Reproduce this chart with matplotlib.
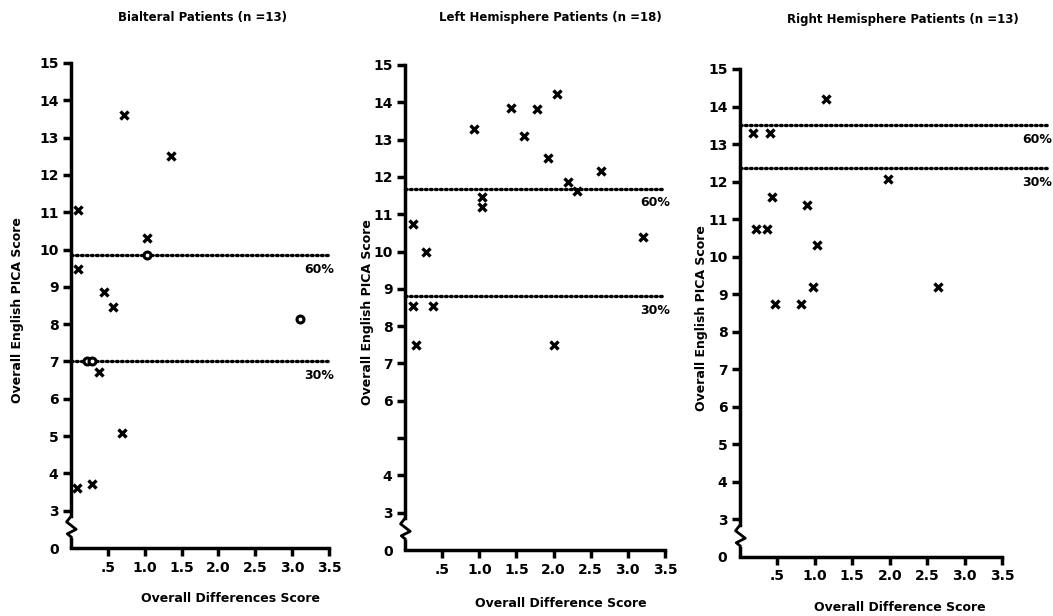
import matplotlib
matplotlib.use("Agg")
import matplotlib.pyplot as plt
import numpy as np

# ========== Datos ==========

titles = ["Bialteral Patients (n =13)", "Left Hemisphere Patients (n =18)",
          "Right Hemisphere Patients (n =13)"]
xlabels = ["Overall Differences Score", "Overall Difference Score", "Overall Difference Score"]
ylabel = "Overall English PICA Score"

bil_x = [0.1, 0.1, 0.72, 1.35, 1.03, 0.45, 0.57, 0.38, 0.69, 0.08, 0.28]
bil_y = [11.05, 9.47, 13.6, 12.5, 10.3, 8.85, 8.45, 6.73, 5.07, 3.62, 3.72]
bil_circ_x = [3.1, 1.03, 0.22, 0.28]
bil_circ_y = [8.13, 9.85, 7.0, 7.0]

left_x = [0.11, 0.28, 0.11, 0.38, 0.93, 1.03, 1.03, 1.43, 1.6, 1.78,
          2.04, 1.93, 2.2, 2.31, 2.64, 3.2, 0.15, 2.0]
left_y = [10.74, 9.99, 8.54, 8.54, 13.29, 11.45, 11.2, 13.85, 13.1, 13.82,
          14.22, 12.5, 11.87, 11.63, 12.16, 10.39, 7.5, 7.5]

right_x = [0.17, 0.4, 1.15, 1.98, 0.43, 0.21, 0.36, 0.9, 1.03, 0.97, 0.47, 0.82, 2.64]
right_y = [13.29, 13.29, 14.2, 12.08, 11.6, 10.74, 10.74, 11.38, 10.31, 9.19, 8.73, 8.73, 9.2]

# percentiles 60% / 30%
pct_levels = [(9.85, 7.0), (11.68, 8.8), (13.5, 12.35)]
pct_line_end = [3.5, 3.5, 4.1]

x_ticks = [0.5, 1.0, 1.5, 2.0, 2.5, 3.0, 3.5]
x_ticklabels = [".5", "1.0", "1.5", "2.0", "2.5", "3.0", "3.5"]
y_ticks = [2, 3, 4, 5, 6, 7, 8, 9, 10, 11, 12, 13, 14, 15]
y_ticklabels = [
    ["0", "3", "4", "5", "6", "7", "8", "9", "10", "11", "12", "13", "14", "15"],
    ["0", "3", "4", "", "6", "7", "8", "9", "10", "11", "12", "13", "14", "15"],
    ["0", "3", "4", "5", "6", "7", "8", "9", "10", "11", "12", "13", "14", "15"],
]

# ========== Figura ==========

plt.rcParams['font.family'] = 'DejaVu Sans'
plt.rcParams['font.weight'] = 'bold'

fig = plt.figure(figsize=(10.53, 6.16), dpi=100)

boxes = [
    [71 / 1053, 68 / 616, 258 / 1053, 485 / 616],
    [405 / 1053, 66 / 616, 260 / 1053, 485 / 616],
    [740 / 1053, 59 / 616, 262 / 1053, 488 / 616],
]
ylab_x = [-0.182, -0.119, -0.122]
xlab_pos = [(0.62, -0.091), (0.60, -0.097), (0.61, -0.090)]
title_pos = [(203, 18), (550, 18), (903, 20)]

series = [(bil_x, bil_y), (left_x, left_y), (right_x, right_y)]

for i in range(3):
    ax = fig.add_axes(boxes[i])
    ax.set_xlim(0, 3.5)
    ax.set_ylim(2, 15)

    for s in ['top', 'right']:
        ax.spines[s].set_visible(False)
    ax.spines['left'].set_linewidth(2.5)
    ax.spines['bottom'].set_linewidth(2.5)
    ax.spines['left'].set_bounds(2.85, 15)

    # corte del eje (zigzag)
    ax.plot([0, 0], [2, 2.3], color='black', lw=2.5, clip_on=False, solid_capstyle='butt')
    ax.plot([0, -0.06, 0.07, -0.05, 0], [2.85, 2.7, 2.5, 2.38, 2.3],
            color='black', lw=2, clip_on=False)

    ax.set_xticks(x_ticks)
    ax.set_xticklabels(x_ticklabels, fontsize=10, fontweight='bold')
    ax.set_yticks(y_ticks)
    ax.set_yticklabels(y_ticklabels[i], fontsize=10, fontweight='bold')
    ax.tick_params(axis='both', direction='out', length=6, width=2.5, pad=3)
    ax.yaxis.get_major_ticks()[0].tick1line.set_visible(False)

    ax.set_ylabel(ylabel, fontsize=9, fontweight='bold')
    ax.yaxis.set_label_coords(ylab_x[i], 0.49)
    ax.set_xlabel(xlabels[i], fontsize=9, fontweight='bold')
    ax.xaxis.set_label_coords(*xlab_pos[i])

    # lineas de percentil
    for level, lab in zip(pct_levels[i], ["60%", "30%"]):
        ax.plot([0, pct_line_end[i]], [level, level], color='black', lw=2.4,
                linestyle=(0, (0.5, 1.0)), dash_capstyle='round', clip_on=False)
        ax.annotate(lab, xy=(pct_line_end[i], level), xytext=(4, -10),
                    textcoords='offset points', ha='right', va='center',
                    fontsize=9, fontweight='bold', annotation_clip=False)

    xs, ys = series[i]
    ax.plot(xs, ys, linestyle='none', marker='x', color='black',
            markersize=5.5, markeredgewidth=2.4, clip_on=False)
    if i == 0:
        ax.plot(bil_circ_x, bil_circ_y, linestyle='none', marker='o',
                markerfacecolor='white', markeredgecolor='black',
                markersize=5, markeredgewidth=2.2, clip_on=False)

    fig.text(title_pos[i][0] / 1053, 1 - title_pos[i][1] / 616, titles[i],
             ha='center', va='center', fontsize=8.5, fontweight='bold')

plt.savefig('out.png', dpi=100)
